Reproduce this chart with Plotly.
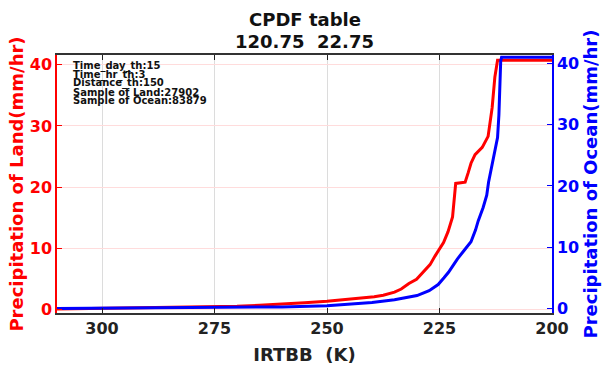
import plotly.graph_objects as go

# ---- data ----
land_x = [310, 300, 290, 280, 275, 270, 265, 260, 255, 250, 245, 242, 239.5, 237.5,
          235, 233.5, 231.8, 230.1, 228.5, 227.1, 226, 225, 224.1, 223.1, 222.1,
          221.4, 219.3, 218.6, 218.0, 217.1, 215.5, 214.2, 213.3, 212.7, 212.1, 200]
land_y = [0.05, 0.15, 0.25, 0.35, 0.42, 0.5, 0.65, 0.8, 1.05, 1.3, 1.6, 1.85, 2.05, 2.3,
          2.8, 3.3, 4.2, 4.9, 6.2, 7.3, 8.7, 9.8, 10.9, 12.7, 15.1,
          20.6, 20.8, 22.4, 23.9, 25.3, 26.5, 28.3, 33.0, 38.0, 40.77, 40.77]

ocean_x = [310, 300, 290, 280, 275, 270, 260, 250, 245, 240, 235, 230, 227.3, 225.3,
           224, 223, 222, 221, 219.5, 218, 217, 216.4, 215.3, 214.5, 214.1, 213.1,
           212.1, 211.8, 211.4, 211.2, 200]
ocean_y = [0.0, 0.05, 0.08, 0.1, 0.12, 0.15, 0.25, 0.45, 0.65, 0.95, 1.4, 2.1, 2.9, 3.9,
           5.0, 5.9, 7.0, 8.1, 9.5, 10.9, 12.8, 14.3, 16.5, 18.5, 20.6, 24.5,
           27.9, 31.6, 40.4, 41.05, 41.05]

x_ticks = [300, 275, 250, 225, 200]
y_ticks = [0, 10, 20, 30, 40]

info_lines = ["Time_day_th:15", "Time_hr_th:3", "Distance_th:150",
              "Sample of Land:27902", "Sample of Ocean:83879"]

title_lines = ["CPDF table", "120.75\u00a0\u00a022.75"]
x_title = "IRTBB\u00a0\u00a0(K)"
land_title = "Precipitation of Land(mm/hr)"
ocean_title = "Precipitation of Ocean(mm/hr)"

FONT = "DejaVu Sans"
W, H = 603, 365
ML, MR, MT, MB = 57, 51, 55, 52
plot_w = W - ML - MR
plot_h = H - MT - MB


def py(ypix):
    return (H - MB - ypix) / plot_h


fig = go.Figure()
fig.add_trace(go.Scatter(x=land_x, y=land_y, mode="lines",
                         line=dict(color="#ff0000", width=3), yaxis="y"))
fig.add_trace(go.Scatter(x=ocean_x, y=ocean_y, mode="lines",
                         line=dict(color="#0000ff", width=3), yaxis="y2"))

annotations = []
for txt, yc in zip(title_lines, [19.5, 41.5]):
    annotations.append(dict(
        text=txt, xref="paper", yref="paper", x=0.5, y=py(yc),
        xanchor="center", yanchor="middle", showarrow=False,
        font=dict(family=FONT, size=18, color="#111", weight="bold")))

line_centers = [66, 74.7, 83.4, 92.1, 100.8]
for txt, yc in zip(info_lines, line_centers):
    annotations.append(dict(
        text=txt, xref="paper", yref="paper", x=(71 - ML) / plot_w,
        y=py(yc), xanchor="left", yanchor="middle",
        showarrow=False, font=dict(family=FONT, size=10, color="#111", weight="bold")))

fig.update_layout(
    width=W, height=H,
    margin=dict(l=ML, r=MR, t=MT, b=MB, autoexpand=False),
    paper_bgcolor="white", plot_bgcolor="white",
    showlegend=False,
    xaxis=dict(range=[310, 200], tickvals=x_ticks, ticks="inside", ticklen=5,
               tickcolor="#222", showline=True, linecolor="#333", linewidth=1.5,
               mirror="ticks", showgrid=True, gridcolor="#dcdcdc", gridwidth=1,
               zeroline=False,
               tickfont=dict(family=FONT, size=16, color="#222", weight="bold"),
               title=dict(text=x_title, standoff=12,
                          font=dict(family=FONT, size=18, color="#222", weight="bold"))),
    yaxis=dict(range=[-0.62, 41.62], tickvals=y_ticks, ticks="inside", ticklen=5,
               tickcolor="#ff0000", showline=True, linecolor="#ff0000", linewidth=1.5,
               showgrid=True, gridcolor="#ffdcdc", gridwidth=1, zeroline=False,
               tickfont=dict(family=FONT, size=16, color="#ff0000", weight="bold"),
               title=dict(text=land_title, standoff=1,
                          font=dict(family=FONT, size=18, color="#ff0000", weight="bold"))),
    yaxis2=dict(range=[-0.75, 41.4], tickvals=y_ticks, ticks="inside", ticklen=5,
                tickcolor="#0000ff", showline=True, linecolor="#0000ff", linewidth=1.5,
                overlaying="y", side="right", showgrid=False, zeroline=False,
                tickfont=dict(family=FONT, size=16, color="#0000ff", weight="bold"),
                title=dict(text=ocean_title, standoff=6,
                           font=dict(family=FONT, size=18, color="#0000ff", weight="bold"))),
    annotations=annotations,
)

fig.write_html("out.html")
